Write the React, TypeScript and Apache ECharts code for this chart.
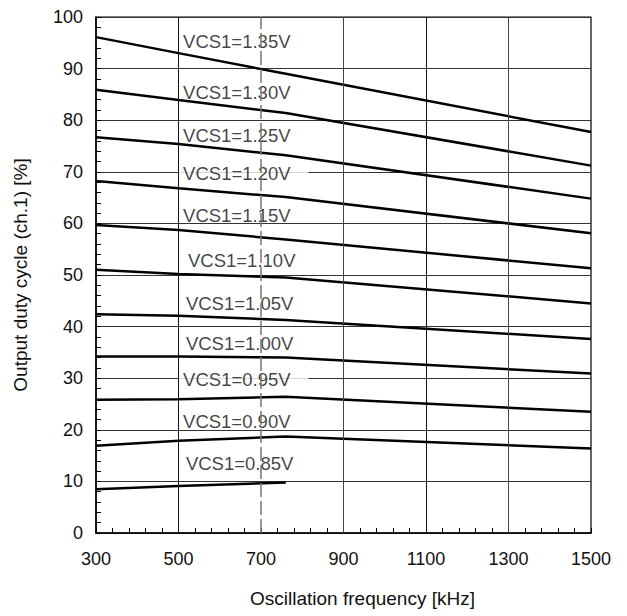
import React, { useEffect, useRef } from "react";
import * as echarts from "echarts";

// Oscillation frequency sample points [kHz]
const FREQ = [300, 500, 760, 1500];

// VCS1 settings [V], top curve first
const VCS1 = ["1.35", "1.30", "1.25", "1.20", "1.15", "1.10", "1.05", "1.00", "0.95", "0.90", "0.85"];

// Output duty cycle (ch.1) [%] at each FREQ point
const DUTY_135 = [96.1, 93.0, 89.0, 77.7];
const DUTY_130 = [85.9, 83.9, 81.4, 71.2];
const DUTY_125 = [76.7, 75.4, 73.2, 64.8];
const DUTY_120 = [68.2, 66.8, 65.1, 58.1];
const DUTY_115 = [59.7, 58.7, 56.9, 51.3];
const DUTY_110 = [51.0, 50.2, 49.5, 44.5];
const DUTY_105 = [42.4, 42.1, 41.3, 37.6];
const DUTY_100 = [34.2, 34.2, 34.0, 30.9];
const DUTY_095 = [25.8, 25.9, 26.4, 23.5];
const DUTY_090 = [16.9, 17.9, 18.7, 16.4];
const DUTY_085 = [8.5, 9.1, 9.8];

const DUTY = [
  DUTY_135, DUTY_130, DUTY_125, DUTY_120, DUTY_115, DUTY_110,
  DUTY_105, DUTY_100, DUTY_095, DUTY_090, DUTY_085,
];

// Axis ticks
const X_TICKS = { min: 300, max: 1500, step: 200 };
const Y_TICKS = { min: 0, max: 100, step: 10 };

// Where each curve caption sits (left edge freq, vertical centre duty)
const CAPTION_AT: [number, number][] = [
  [511, 95.2], [511, 85.3], [511, 77.1], [499, 69.6], [511, 61.6], [523, 52.9],
  [518, 44.5], [518, 36.8], [499, 29.7], [511, 21.6], [518, 13.5],
];
// Captions that sit on a grid line get a white box
const BOXED = new Set(["1.20", "0.95"]);

const FONT = "'Liberation Sans', Arial, sans-serif";

export default function App() {
  const ref = useRef<HTMLDivElement>(null);

  useEffect(() => {
    if (!ref.current) return;
    const chart = echarts.init(ref.current, undefined, { renderer: "svg" });

    const curves = VCS1.map((v, k) => ({
      name: `VCS1=${v}V`,
      type: "line",
      z: 3,
      symbol: "none",
      silent: true,
      lineStyle: { color: "#000", width: 2.5 },
      data: DUTY[k].map((d, i) => [FREQ[i], d]),
      ...(k === 0
        ? {
            markLine: {
              silent: true,
              symbol: "none",
              label: { show: false },
              data: [
                { xAxis: 500, lineStyle: { color: "#111", width: 1, type: "solid" } },
                { xAxis: 700, lineStyle: { color: "#777", width: 1.5, type: [14, 4] } },
                { xAxis: 900, lineStyle: { color: "#444", width: 1, type: "solid" } },
                { xAxis: 1100, lineStyle: { color: "#111", width: 1, type: "solid" } },
                { xAxis: 1300, lineStyle: { color: "#444", width: 1, type: "solid" } },
              ],
            },
          }
        : {}),
    }));

    const captions = {
      type: "scatter",
      z: 1,
      silent: true,
      symbolSize: 0,
      data: VCS1.map((v, k) => ({
        value: [CAPTION_AT[k][0], CAPTION_AT[k][1], v],
        label: BOXED.has(v)
          ? { backgroundColor: "#fff", padding: [1, 18, 1, 5] }
          : { padding: 0 },
      })),
      label: {
        show: true,
        position: "right",
        distance: 0,
        color: "#111",
        fontFamily: FONT,
        fontSize: 18.5,
        formatter: (p: any) => `VCS1=${p.value[2]}V`,
      },
    };

    chart.setOption({
      animation: false,
      backgroundColor: "#fff",
      grid: {
        left: 96,
        right: 36,
        top: 17,
        bottom: 83,
        show: true,
        borderColor: "#000",
        borderWidth: 1.2,
        backgroundColor: "transparent",
      },
      xAxis: {
        type: "value",
        min: X_TICKS.min,
        max: X_TICKS.max,
        interval: X_TICKS.step,
        name: "Oscillation frequency [kHz]",
        nameLocation: "middle",
        nameGap: 56,
        nameTextStyle: { fontFamily: FONT, fontSize: 19, color: "#111", padding: [0, 0, 0, 38] },
        axisLine: { show: true, onZero: false, lineStyle: { color: "#000", width: 1.5 } },
        axisTick: { show: true, inside: true, length: 5, lineStyle: { color: "#000" } },
        minorTick: { show: true, splitNumber: 5, length: 5, lineStyle: { color: "#000", width: 1 } },
        axisLabel: {
          fontFamily: FONT,
          fontSize: 18,
          color: "#111",
          margin: 17,
          formatter: (v: number) => String(v),
        },
        splitLine: { show: false },
      },
      yAxis: {
        type: "value",
        min: Y_TICKS.min,
        max: Y_TICKS.max,
        interval: Y_TICKS.step,
        name: "Output duty cycle (ch.1) [%]",
        nameLocation: "middle",
        nameGap: 66,
        nameTextStyle: { fontFamily: FONT, fontSize: 19, color: "#111" },
        axisLine: { show: true, lineStyle: { color: "#000", width: 1.5 } },
        axisTick: { show: true, inside: true, length: 5, lineStyle: { color: "#000" } },
        minorTick: { show: true, splitNumber: 5, length: 5, lineStyle: { color: "#000", width: 1 } },
        axisLabel: { fontFamily: FONT, fontSize: 18, color: "#111", margin: 13 },
        splitLine: { show: true, lineStyle: { color: "#333", width: 1 } },
      },
      series: [...curves, captions],
    });

    return () => chart.dispose();
  }, []);

  return (
    <div
      ref={ref}
      style={{ position: "fixed", left: 0, top: 0, width: 627, height: 616, background: "#fff" }}
    />
  );
}
